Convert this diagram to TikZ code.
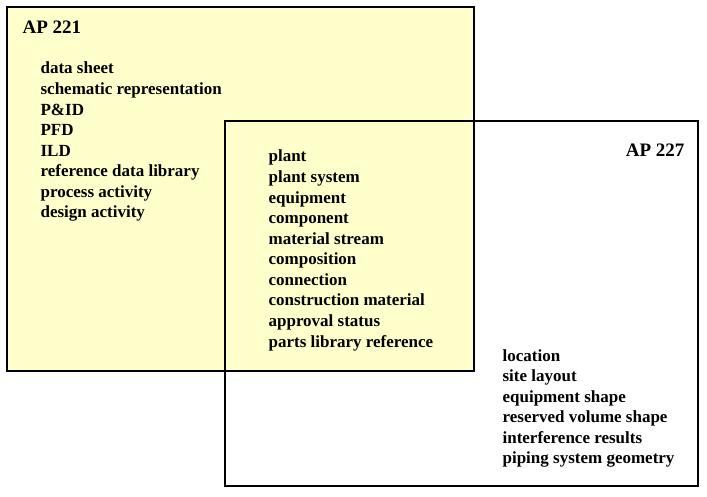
\documentclass[tikz,border=0pt]{standalone}
\usepackage{fontspec}
\setmainfont{Liberation Serif}
\usetikzlibrary{positioning}
\definecolor{paleyellow}{HTML}{FFFFCC}

\begin{document}
\begin{tikzpicture}[x=1pt, y=-1pt, line width=1.2pt]
   \useasboundingbox (0,0) rectangle (707,497);
   \begin{scope}[every node/.style={draw=black, inner sep=0pt}]
    \node (box221) [fill=paleyellow, minimum width=467pt, minimum height=364pt] at (240.5,189) {};
    \node (box227) [minimum width=473pt, minimum height=365pt] at (461.5,303.5) {};
   \end{scope}
   \begin{scope}[every node/.style={font=\bfseries\fontsize{17}{20.57}\selectfont, inner sep=0pt, anchor=base west}]
    \node (title221) [font=\bfseries\fontsize{19}{20}\selectfont] at (22,34) {AP 221};
    \node (title227) [font=\bfseries\fontsize{19}{20}\selectfont, anchor=base east] at (685,157) {AP 227};
    \foreach \s [count=\i from 0] in {data sheet, schematic representation, P\&ID, PFD, ILD,
        reference data library, process activity, design activity}
      \node (only221-\i) at (40,74+20.57*\i) {\s};
    \foreach \s [count=\i from 0] in {plant, plant system, equipment, component, material stream,
        composition, connection, construction material, approval status, parts library reference}
      \node (shared-\i) at (268,162+20.57*\i) {\s};
    \foreach \s [count=\i from 0] in {location, site layout, equipment shape, reserved volume shape,
        interference results, piping system geometry}
      \node (only227-\i) at (502,361+20.57*\i) {\s};
   \end{scope}
\end{tikzpicture}
\end{document}
